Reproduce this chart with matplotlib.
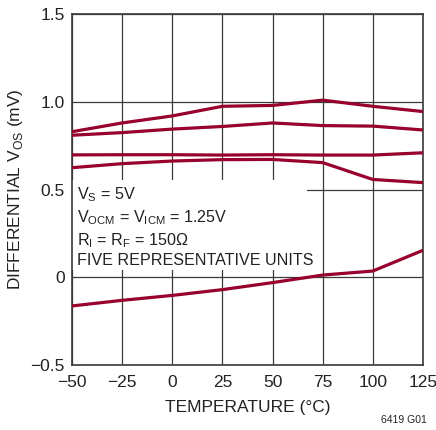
import matplotlib
matplotlib.use("Agg")
import matplotlib.pyplot as plt
from matplotlib.patches import Rectangle

# temperature points (deg C)
temps = [-50, -25, 0, 25, 50, 75, 100, 125]

# differential Vos (mV), five units
unit1 = [0.83, 0.88, 0.92, 0.975, 0.98, 1.01, 0.975, 0.945]
unit2 = [0.81, 0.825, 0.845, 0.86, 0.88, 0.865, 0.862, 0.84]
unit3 = [0.698, 0.699, 0.699, 0.697, 0.699, 0.697, 0.697, 0.71]
unit4 = [0.625, 0.648, 0.663, 0.671, 0.672, 0.654, 0.558, 0.54]
unit5 = [-0.163, -0.131, -0.103, -0.07, -0.03, 0.013, 0.036, 0.154]
units = [unit1, unit2, unit3, unit4, unit5]

xticks = [-50, -25, 0, 25, 50, 75, 100, 125]
yticks = [-0.5, 0, 0.5, 1.0, 1.5]
ytick_labels = ["\u22120.5", "0", "0.5", "1.0", "1.5"]
xtick_labels = ["\u221250", "\u221225", "0", "25", "50", "75", "100", "125"]

plt.rcParams['font.family'] = ['Liberation Sans', 'DejaVu Sans']
plt.rcParams['mathtext.fontset'] = 'custom'
plt.rcParams['mathtext.rm'] = 'Liberation Sans'

fig = plt.figure(figsize=(4.36, 4.30), dpi=100)
ax = fig.add_axes([0.165, 0.151, 0.805, 0.816])

txt_color = '#222222'
line_color = '#98002e'
for u in units:
    ax.plot(temps, u, color=line_color, lw=2.3, solid_capstyle='butt', zorder=3)

ax.set_xlim(-50, 125)
ax.set_ylim(-0.5, 1.5)
ax.set_xticks(xticks)
ax.set_xticklabels(xtick_labels)
ax.set_yticks(yticks)
ax.set_yticklabels(ytick_labels)
ax.tick_params(length=0, labelsize=12.5, colors=txt_color)
ax.tick_params(axis='x', pad=7)
ax.tick_params(axis='y', pad=5)
ax.grid(True, color='#3a3a3a', lw=0.9)
ax.set_axisbelow(True)
for s in ax.spines.values():
    s.set_color('#3a3a3a')
    s.set_linewidth(1.2)

# white box behind the annotation text
ax.add_patch(Rectangle((-50, 0.04), 117.3, 0.513, facecolor='white',
                       edgecolor='none', zorder=2))
ax.text(-47.5, 0.525,
        "V$_\\mathregular{S}$ = 5V\n"
        "V$_\\mathregular{OCM}$ = V$_\\mathregular{ICM}$ = 1.25V\n"
        "R$_\\mathregular{I}$ = R$_\\mathregular{F}$ = 150\u03a9\n"
        "FIVE REPRESENTATIVE UNITS",
        va='top', ha='left', fontsize=11.6, color=txt_color,
        linespacing=1.3, zorder=4)

ax.set_xlabel("TEMPERATURE (\u00b0C)", fontsize=12.5, color=txt_color)
ax.xaxis.set_label_coords(0.5, -0.1)
ax.set_ylabel("DIFFERENTIAL V$_\\mathregular{OS}$ (mV)", fontsize=12.5,
              color=txt_color)
ax.yaxis.set_label_coords(-0.134, 0.5)

fig.text(0.98, 0.012, "6419 G01", ha='right', va='bottom', fontsize=7.5,
         color=txt_color)

fig.savefig("out.png", dpi=100)
